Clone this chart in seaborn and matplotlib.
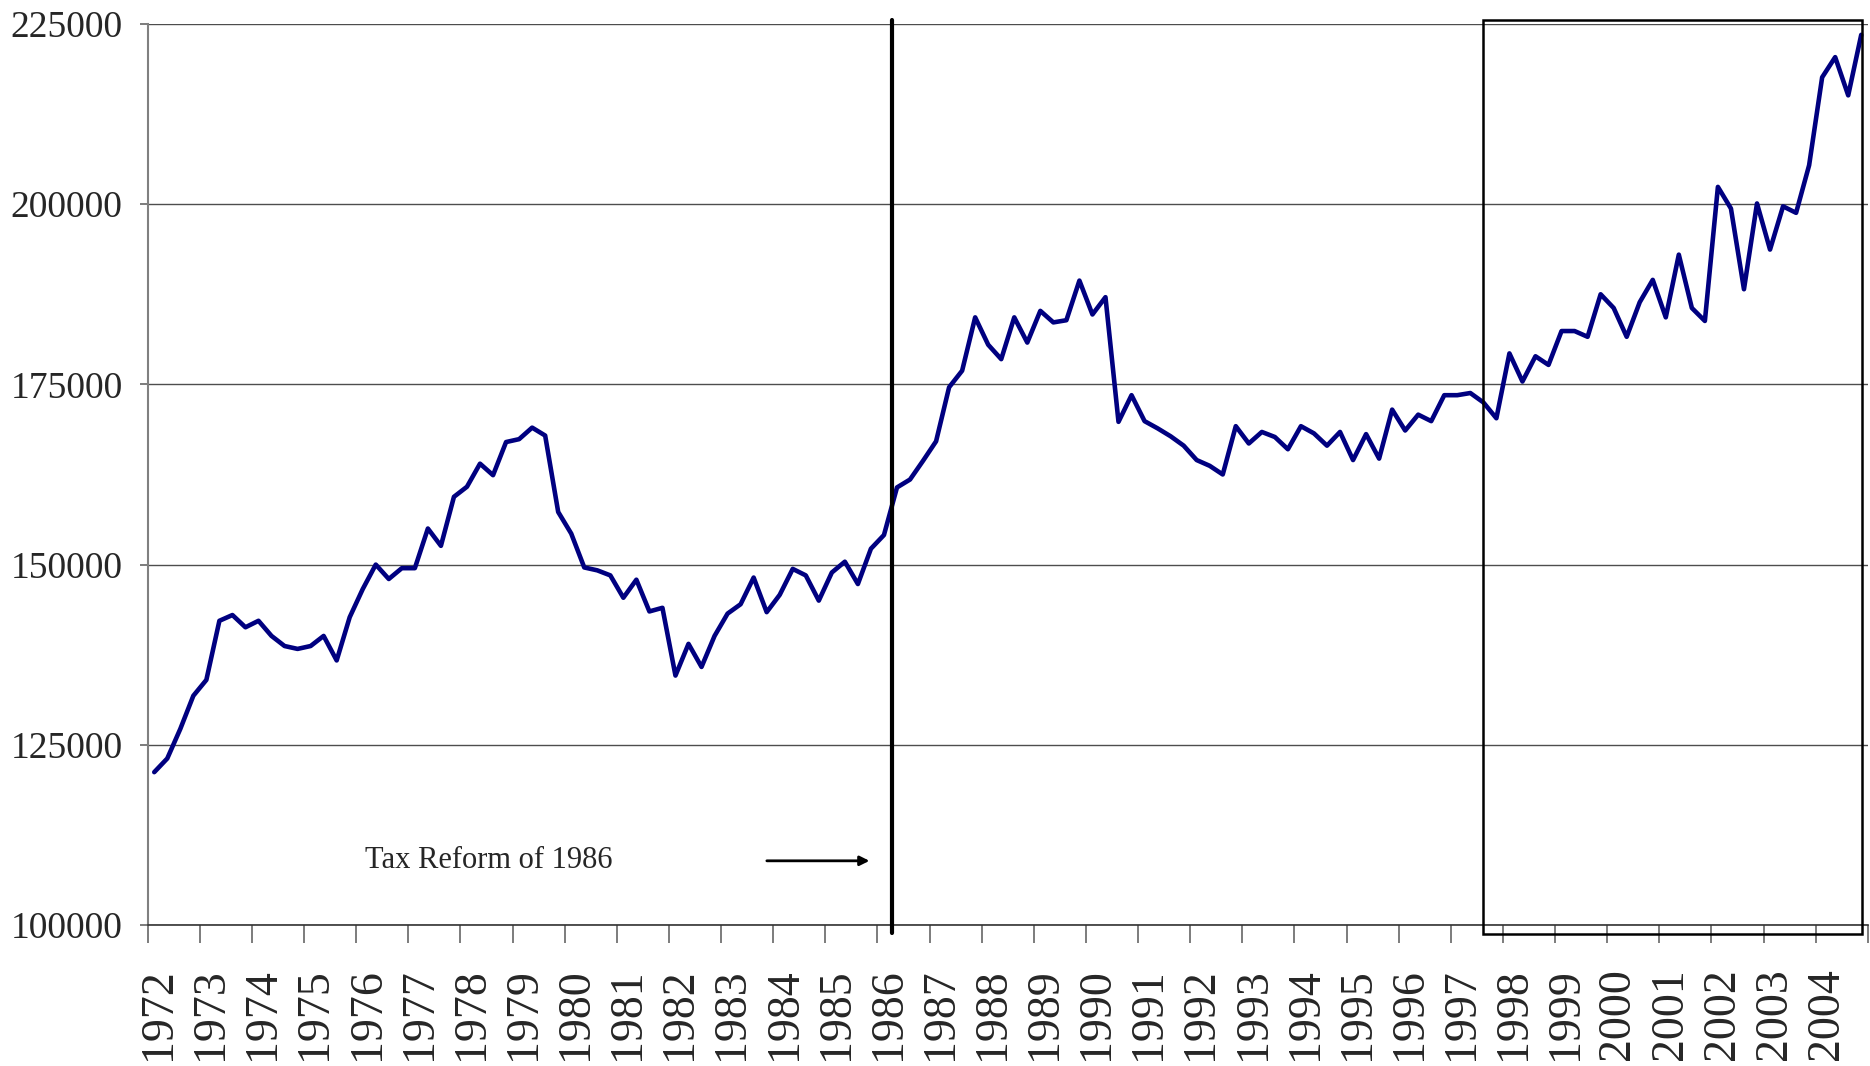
import numpy as np
import pandas as pd
import matplotlib
matplotlib.use("Agg")
import matplotlib.pyplot as plt
import matplotlib.transforms as mtransforms
from matplotlib.patches import Rectangle
import seaborn as sns

# quarterly series, 1972Q1 .. 2004Q4
years = list(range(1972, 2005))
values = [
    121200, 123100, 127200, 131800, 134000, 142200, 143000, 141300,
    142200, 140100, 138700, 138300, 138700, 140100, 136700, 142700,
    146600, 150000, 148000, 149500, 149500, 155000, 152600, 159400,
    160800, 164000, 162400, 167000, 167400, 169000, 167900, 157300,
    154300, 149600, 149200, 148500, 145400, 147900, 143500, 144000,
    134600, 139000, 135800, 140100, 143200, 144500, 148200, 143400,
    145800, 149400, 148500, 145000, 148900, 150400, 147300, 152200,
    154100, 160700, 161800, 164400, 167100, 174600, 176900, 184300,
    180500, 178500, 184300, 180800, 185200, 183600, 183900, 189400,
    184700, 187100, 169800, 173500, 169900, 168900, 167800, 166500,
    164500, 163700, 162500, 169200, 166800, 168400, 167700, 166000,
    169200, 168200, 166500, 168400, 164500, 168100, 164700, 171500,
    168600, 170800, 169900, 173500, 173500, 173800, 172500, 170300,
    179300, 175400, 178900, 177700, 182400, 182400, 181600, 187500,
    185600, 181600, 186400, 189500, 184300, 193000, 185600, 183800,
    202400, 199400, 188200, 200100, 193700, 199700, 198800, 205400,
    217600, 220400, 215100, 223500,
]
y_ticks = [100000, 125000, 150000, 175000, 200000, 225000]

reform_year = 1986
box_start_year = 1997.625

df = pd.DataFrame({"pos": np.arange(len(values)) + 0.5, "value": values})

sns.set_style("white")
plt.rcParams["font.family"] = ["Liberation Serif", "DejaVu Serif"]

fig = plt.figure(figsize=(18.7, 10.66), dpi=100)
ax = fig.add_axes([0.079, 0.1323, 0.9198, 0.8452])

sns.lineplot(data=df, x="pos", y="value", color="#000080", linewidth=3.3, ax=ax)

ax.set_xlim(0, len(values))
ax.set_ylim(y_ticks[0], y_ticks[-1])
ax.set_yticks(y_ticks)
ax.set_yticklabels([str(v) for v in y_ticks], fontsize=27)
ax.yaxis.grid(True, color="#4d4d4d", linewidth=1.0)
ax.set_xlabel("")
ax.set_ylabel("")

# year boundaries as major ticks, labels on minor ticks
ax.set_xticks(np.arange(0, len(values) + 1, 4))
ax.set_xticklabels([])
ax.set_xticks(np.arange(len(years)) * 4 + 0.85, minor=True)
ax.set_xticklabels([str(y) for y in years], minor=True, rotation=90,
                   fontsize=33, va="top")
ax.tick_params(axis="x", which="major", length=13, width=1.2,
               color="#666666", direction="out", bottom=True)
ax.tick_params(axis="x", which="minor", length=0, pad=31)
ax.tick_params(axis="y", length=6, width=1.2, color="#666666",
               direction="out", left=True, pad=12)

for s in ["top", "right"]:
    ax.spines[s].set_visible(False)
ax.spines["left"].set_color("#808080")
ax.spines["left"].set_linewidth(1.5)
ax.spines["bottom"].set_color("#333333")
ax.spines["bottom"].set_linewidth(1.2)

# Tax Reform of 1986 marker
q_reform = (reform_year - years[0]) * 4 + 1.1
ax.axvline(q_reform, ymin=-0.009, ymax=1.004, color="black",
           linewidth=3.0, clip_on=False, zorder=5)
ax.text(26.2, 108900, "Tax Reform of 1986", fontsize=22,
        ha="center", va="center")
ax.annotate("", xy=(55.6, 108900), xytext=(47.3, 108900),
            arrowprops=dict(arrowstyle="-|>", color="black", lw=2,
                            mutation_scale=14))

# highlight box on the recent period
trans = mtransforms.blended_transform_factory(ax.transData, ax.transAxes)
x0 = (box_start_year - years[0]) * 4
ax.add_patch(Rectangle((x0, -0.01), 131.55 - x0, 1.014, transform=trans,
                       fill=False, edgecolor="black", linewidth=1.8,
                       clip_on=False, zorder=6))

fig.savefig("out.png", dpi=100)
